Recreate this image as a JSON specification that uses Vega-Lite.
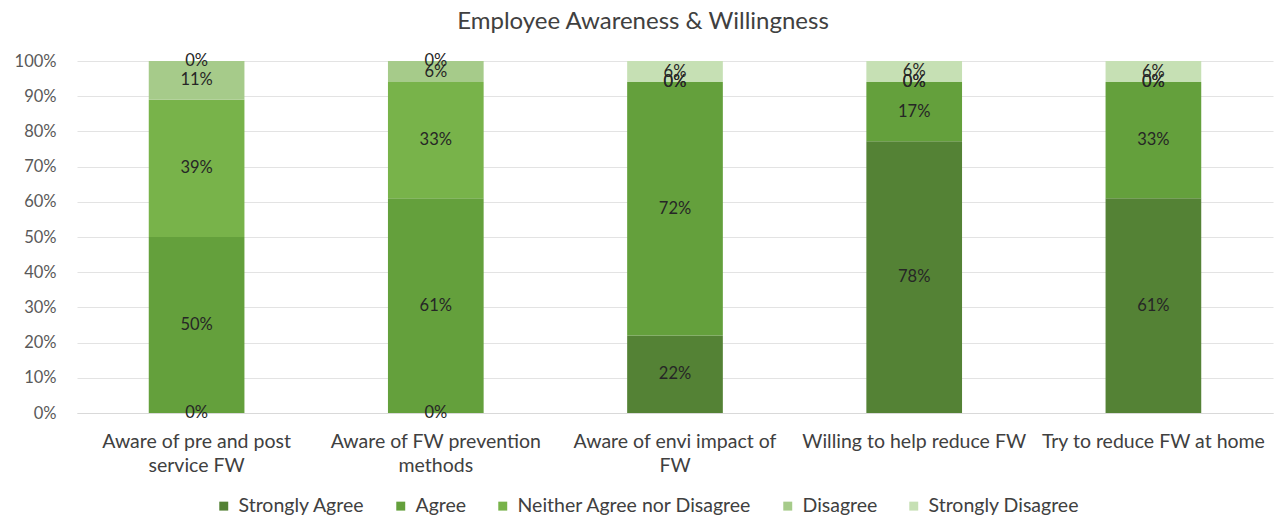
{
  "$schema": "https://vega.github.io/schema/vega-lite/v6.json",
  "autosize": "none",
  "width": 1196,
  "height": 352,
  "padding": {"left": 77, "top": 61, "right": 7, "bottom": 107},
  "background": "white",
  "title": {
    "text": "Employee Awareness & Willingness",
    "font": "Lato",
    "fontSize": 24,
    "fontWeight": "normal",
    "color": "#404040",
    "anchor": "middle",
    "dx": -32,
    "offset": 19
  },
  "config": {
    "view": {"stroke": null},
    "font": "Lato"
  },
  "data": {
    "values": [
      {"q": "Aware of pre and post service FW", "resp": "Strongly Agree", "k": 1, "v": 0},
      {"q": "Aware of pre and post service FW", "resp": "Agree", "k": 2, "v": 50},
      {"q": "Aware of pre and post service FW", "resp": "Neither Agree nor Disagree", "k": 3, "v": 39},
      {"q": "Aware of pre and post service FW", "resp": "Disagree", "k": 4, "v": 11},
      {"q": "Aware of pre and post service FW", "resp": "Strongly Disagree", "k": 5, "v": 0},
      {"q": "Aware of FW prevention methods", "resp": "Strongly Agree", "k": 1, "v": 0},
      {"q": "Aware of FW prevention methods", "resp": "Agree", "k": 2, "v": 61},
      {"q": "Aware of FW prevention methods", "resp": "Neither Agree nor Disagree", "k": 3, "v": 33},
      {"q": "Aware of FW prevention methods", "resp": "Disagree", "k": 4, "v": 6},
      {"q": "Aware of FW prevention methods", "resp": "Strongly Disagree", "k": 5, "v": 0},
      {"q": "Aware of envi impact of FW", "resp": "Strongly Agree", "k": 1, "v": 22},
      {"q": "Aware of envi impact of FW", "resp": "Agree", "k": 2, "v": 72},
      {"q": "Aware of envi impact of FW", "resp": "Neither Agree nor Disagree", "k": 3, "v": 0},
      {"q": "Aware of envi impact of FW", "resp": "Disagree", "k": 4, "v": 0},
      {"q": "Aware of envi impact of FW", "resp": "Strongly Disagree", "k": 5, "v": 6},
      {"q": "Willing to help reduce FW", "resp": "Strongly Agree", "k": 1, "v": 78},
      {"q": "Willing to help reduce FW", "resp": "Agree", "k": 2, "v": 17},
      {"q": "Willing to help reduce FW", "resp": "Neither Agree nor Disagree", "k": 3, "v": 0},
      {"q": "Willing to help reduce FW", "resp": "Disagree", "k": 4, "v": 0},
      {"q": "Willing to help reduce FW", "resp": "Strongly Disagree", "k": 5, "v": 6},
      {"q": "Try to reduce FW at home", "resp": "Strongly Agree", "k": 1, "v": 61},
      {"q": "Try to reduce FW at home", "resp": "Agree", "k": 2, "v": 33},
      {"q": "Try to reduce FW at home", "resp": "Neither Agree nor Disagree", "k": 3, "v": 0},
      {"q": "Try to reduce FW at home", "resp": "Disagree", "k": 4, "v": 0},
      {"q": "Try to reduce FW at home", "resp": "Strongly Disagree", "k": 5, "v": 6}
    ]
  },
  "encoding": {
    "x": {
      "field": "q",
      "type": "nominal",
      "sort": null,
      "scale": {"paddingInner": 0.6, "paddingOuter": 0.3},
      "axis": {
        "title": null,
        "labelAngle": 0,
        "labelFont": "Lato",
        "labelFontSize": 19.5,
        "labelColor": "#404040",
        "labelPadding": 19,
        "labelLineHeight": 24,
        "labelLimit": 300,
        "labelOverlap": false,
        "ticks": false,
        "domainColor": "#d9d9d9",
        "grid": false,
        "labelExpr": "datum.value == 'Aware of pre and post service FW' ? ['Aware of pre and post', 'service FW'] : datum.value == 'Aware of FW prevention methods' ? ['Aware of FW prevention', 'methods'] : datum.value == 'Aware of envi impact of FW' ? ['Aware of envi impact of', 'FW'] : datum.value"
      }
    }
  },
  "layer": [
    {
      "mark": {"type": "bar"},
      "encoding": {
        "y": {
          "field": "v",
          "type": "quantitative",
          "stack": "normalize",
          "scale": {"domain": [0, 1]},
          "axis": {
            "title": null,
            "format": ".0%",
            "values": [0, 0.1, 0.2, 0.3, 0.4, 0.5, 0.6, 0.7, 0.8, 0.9, 1],
            "labelOverlap": false,
            "labelFont": "Lato",
            "labelFontSize": 16.5,
            "labelColor": "#595959",
            "labelPadding": 21,
            "ticks": false,
            "domain": false,
            "gridColor": "#e3e3e3"
          }
        },
        "color": {
          "field": "resp",
          "type": "nominal",
          "sort": ["Strongly Agree", "Agree", "Neither Agree nor Disagree", "Disagree", "Strongly Disagree"],
          "scale": {
            "domain": ["Strongly Agree", "Agree", "Neither Agree nor Disagree", "Disagree", "Strongly Disagree"],
            "range": ["#548235", "#64a03c", "#78b34a", "#a6cb8a", "#c6e0b4"]
          },
          "legend": {
            "title": null,
            "orient": "none",
            "direction": "horizontal",
            "legendX": 137,
            "legendY": 435,
            "symbolType": "square",
            "symbolSize": 80,
            "symbolStrokeWidth": 0,
            "labelFont": "Lato",
            "labelFontSize": 19.5,
            "labelColor": "#404040",
            "labelLimit": 400,
            "columnPadding": 26,
            "labelOffset": 5
          }
        },
        "order": {"field": "k", "type": "quantitative"}
      }
    },
    {
      "mark": {"type": "text", "font": "Lato", "fontSize": 16.5, "color": "#262626", "baseline": "middle", "text": {"expr": "datum.v + '%'"}},
      "encoding": {
        "y": {
          "field": "v",
          "type": "quantitative",
          "stack": "normalize",
          "bandPosition": 0.5,
          "axis": {
            "title": null,
            "format": ".0%",
            "values": [0, 0.1, 0.2, 0.3, 0.4, 0.5, 0.6, 0.7, 0.8, 0.9, 1],
            "labelOverlap": false,
            "labelFont": "Lato",
            "labelFontSize": 16.5,
            "labelColor": "#595959",
            "labelPadding": 21,
            "ticks": false,
            "domain": false,
            "gridColor": "#e3e3e3"
          }
        },
        "detail": {"field": "resp"},
        "order": {"field": "k", "type": "quantitative"}
      }
    }
  ]
}
